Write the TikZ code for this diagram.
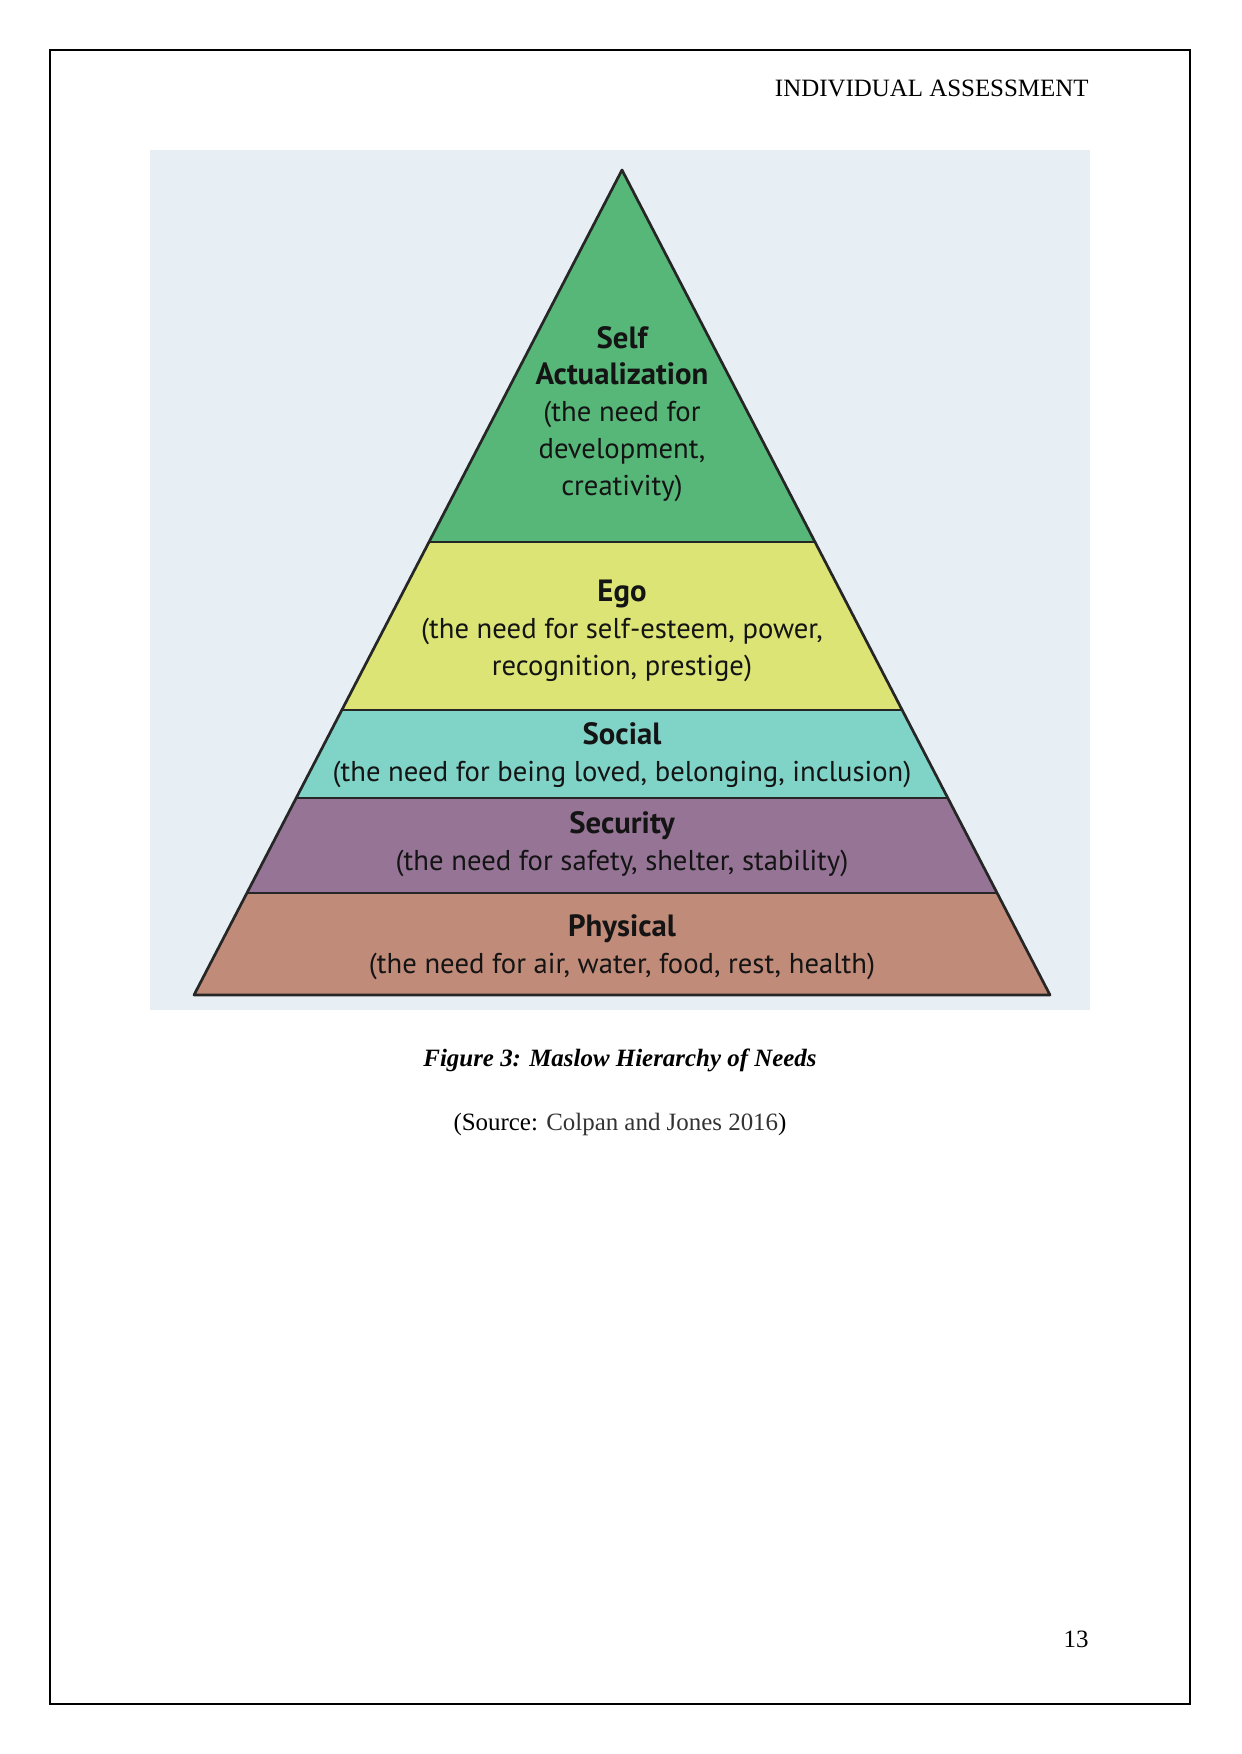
\documentclass[tikz,border=0pt]{standalone}
\usepackage{fontspec}
\setmainfont{Liberation Serif}
\newfontfamily\pyrfont{PT Sans}
\usepackage{xcolor}
\usetikzlibrary{positioning, calc}
\definecolor{pagebg}{RGB}{232,239,244}
\definecolor{selfgreen}{RGB}{87,183,121}
\definecolor{egoyellow}{RGB}{219,228,117}
\definecolor{socialteal}{RGB}{127,212,199}
\definecolor{secpurple}{RGB}{150,116,150}
\definecolor{physbrown}{RGB}{193,139,121}
\newcommand{\lvltitle}[1]{{\fontsize{14.8}{17.75}\selectfont\bfseries #1}}

\begin{document}
\begin{tikzpicture}[
  x=0.16922mm, y=-0.16922mm,
  lvl/.style={align=center, inner sep=0pt, text=black!92,
              font=\pyrfont\fontsize{13.8}{17.75}\selectfont},
  pagetxt/.style={inner sep=0pt, font=\fontsize{12}{14}\selectfont},
  edge/.style={line width=1.3pt, draw=black!85, line join=round},
]
\useasboundingbox (0,0) rectangle (1241,1754);

% ── Page ─────────────────────────────────────────────────────
\draw[line width=0.6pt] (50,50) rectangle (1190,1704);
\node[pagetxt, anchor=base east] (header) at (1089,97)
  {INDIVIDUAL ASSESSMENT};

% ── Pyramid ──────────────────────────────────────────────────
\fill[pagebg] (150,150) rectangle (1090,1010);

\coordinate (apex) at (622,170);
\coordinate (bl) at (194,995);
\coordinate (br) at (1050,995);

\begin{scope}
  \clip (apex) -- (bl) -- (br) -- cycle;
  \fill[selfgreen]  (150,150) rectangle (1090,542);
  \fill[egoyellow]  (150,542) rectangle (1090,710);
  \fill[socialteal] (150,710) rectangle (1090,798);
  \fill[secpurple]  (150,798) rectangle (1090,893);
  \fill[physbrown]  (150,893) rectangle (1090,1000);
  \foreach \yy in {542,710,798,893}
    \draw[edge] (150,\yy) -- (1090,\yy);
\end{scope}
\draw[edge] (apex) -- (bl) -- (br) -- cycle;

\node[lvl] (self) at (622,414)
  {\lvltitle{Self}\\\lvltitle{Actualization}\\(the need for\\development,\\creativity)};
\node[lvl] (ego) at (622,631)
  {\lvltitle{Ego}\\(the need for self-esteem, power,\\recognition, prestige)};
\node[lvl] (social) at (622,755)
  {\lvltitle{Social}\\(the need for being loved, belonging, inclusion)};
\node[lvl] (security) at (622,844)
  {\lvltitle{Security}\\(the need for safety, shelter, stability)};
\node[lvl] (physical) at (622,947)
  {\lvltitle{Physical}\\(the need for air, water, food, rest, health)};

% ── Caption ──────────────────────────────────────────────────
\node[pagetxt, anchor=base, font=\fontsize{12}{14}\selectfont\bfseries\itshape]
  (caption) at (620,1066) {Figure 3: Maslow Hierarchy of Needs};
\node[pagetxt, anchor=base] (source) at (620,1130)
  {(Source: \textcolor{black!80}{Colpan and Jones 2016})};

\node[pagetxt, anchor=base east] (pageno) at (1089,1647) {13};

\end{tikzpicture}
\end{document}
